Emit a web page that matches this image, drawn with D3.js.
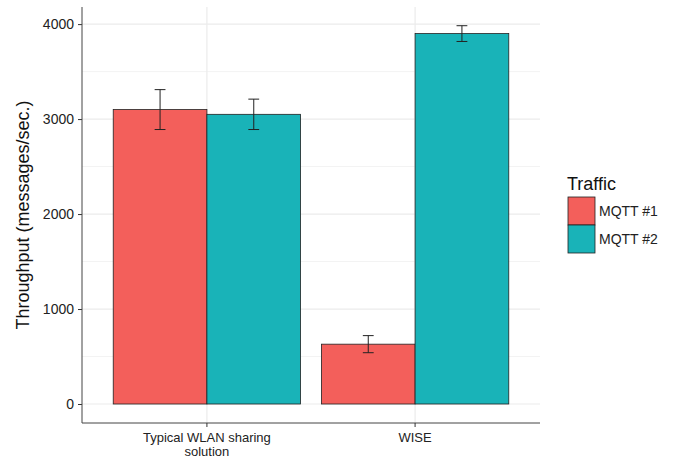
<!DOCTYPE html>
<html><head><meta charset="utf-8">
<script src="https://cdn.jsdelivr.net/npm/d3@7"></script>
<style>body{margin:0;background:#fff}svg{display:block;font-family:"Liberation Sans",Arial,sans-serif}</style>
</head><body><svg id="c" width="673" height="462"></svg>
<script>
const categories = ["Typical WLAN sharing\nsolution", "WISE"];
const series = ["MQTT #1", "MQTT #2"];
const colors = ["#F35F5B", "#19B3B8"];
const meanMQTT1 = [3100, 630];
const errMQTT1 = [210, 90];
const meanMQTT2 = [3050, 3900];
const errMQTT2 = [160, 83];
const yTicks = [0, 1000, 2000, 3000, 4000];
const yMinor = [500, 1500, 2500, 3500];
const legendTitle = "Traffic";
const yTitle = "Throughput (messages/sec.)";

const svg = d3.select("#c");
const L = 82, R = 540, T = 7, B = 423;
const y = d3.scaleLinear().domain([-200, 4180]).range([B, T]);
const x = d3.scaleLinear().domain([0.4, 2.6]).range([L, R]);
const gridC = "#ebebeb";

svg.append("g").selectAll("line").data(yMinor).join("line")
  .attr("x1", L).attr("x2", R).attr("y1", d => y(d)).attr("y2", d => y(d))
  .attr("stroke", "#f3f3f3").attr("stroke-width", 1);
svg.append("g").selectAll("line").data(yTicks).join("line")
  .attr("x1", L).attr("x2", R).attr("y1", d => y(d)).attr("y2", d => y(d))
  .attr("stroke", gridC).attr("stroke-width", 1.2);
svg.append("g").selectAll("line").data(categories).join("line")
  .attr("x1", (d, i) => x(i + 1)).attr("x2", (d, i) => x(i + 1)).attr("y1", T).attr("y2", B)
  .attr("stroke", gridC).attr("stroke-width", 1.2);

const data = [];
categories.forEach((c, i) => {
  data.push({i, s: 0, v: meanMQTT1[i], e: errMQTT1[i]});
  data.push({i, s: 1, v: meanMQTT2[i], e: errMQTT2[i]});
});
const bw = 0.45;
const bx = d => x(d.i + 1 + (d.s === 0 ? -bw : 0));
svg.append("g").selectAll("rect").data(data).join("rect")
  .attr("x", bx).attr("width", x(bw) - x(0))
  .attr("y", d => y(d.v)).attr("height", d => y(0) - y(d.v))
  .attr("fill", d => colors[d.s]).attr("stroke", "#222").attr("stroke-width", 0.8);

const eb = svg.append("g").attr("stroke", "#222").attr("stroke-width", 1);
data.forEach(d => {
  const cx = x(d.i + 1 + (d.s === 0 ? -bw / 2 : bw / 2));
  const hw = (x(0.026) - x(0));
  eb.append("line").attr("x1", cx).attr("x2", cx).attr("y1", y(d.v - d.e)).attr("y2", y(d.v + d.e));
  eb.append("line").attr("x1", cx - hw).attr("x2", cx + hw).attr("y1", y(d.v - d.e)).attr("y2", y(d.v - d.e));
  eb.append("line").attr("x1", cx - hw).attr("x2", cx + hw).attr("y1", y(d.v + d.e)).attr("y2", y(d.v + d.e));
});

const yAxis = svg.append("g").attr("transform", `translate(${L},0)`)
  .call(d3.axisLeft(y).tickValues(yTicks).tickSize(4).tickPadding(4).tickFormat(d3.format("d")));
yAxis.select(".domain").remove();
yAxis.selectAll("line").attr("stroke", "#333");
yAxis.selectAll("text").attr("fill", "#222").style("font-size", "14px");
svg.append("line").attr("x1", L).attr("x2", L).attr("y1", T).attr("y2", B).attr("stroke", "#444").attr("stroke-width", 1);
svg.append("line").attr("x1", L).attr("x2", R).attr("y1", B).attr("y2", B).attr("stroke", "#444").attr("stroke-width", 1);

const xa = svg.append("g");
categories.forEach((c, i) => {
  const cx = x(i + 1);
  xa.append("line").attr("x1", cx).attr("x2", cx).attr("y1", B).attr("y2", B + 4).attr("stroke", "#333");
  c.split("\n").forEach((ln, k) => xa.append("text").attr("x", cx).attr("y", 442 + k * 14)
    .attr("text-anchor", "middle").attr("fill", "#222").style("font-size", "13px").text(ln));
});

svg.append("text").attr("transform", `translate(29,${(T + B) / 2}) rotate(-90)`)
  .attr("text-anchor", "middle").attr("fill", "#111").style("font-size", "18px").text(yTitle);

const lg = svg.append("g");
lg.append("text").attr("x", 567).attr("y", 190).style("font-size", "18px").attr("fill", "#111").text(legendTitle);
series.forEach((s, k) => {
  lg.append("rect").attr("x", 568).attr("y", 197 + k * 28).attr("width", 27).attr("height", 28)
    .attr("fill", colors[k]).attr("stroke", "#222").attr("stroke-width", 0.8);
  lg.append("text").attr("x", 599).attr("y", 216 + k * 28).style("font-size", "14px").attr("fill", "#222").text(s);
});
</script></body></html>
